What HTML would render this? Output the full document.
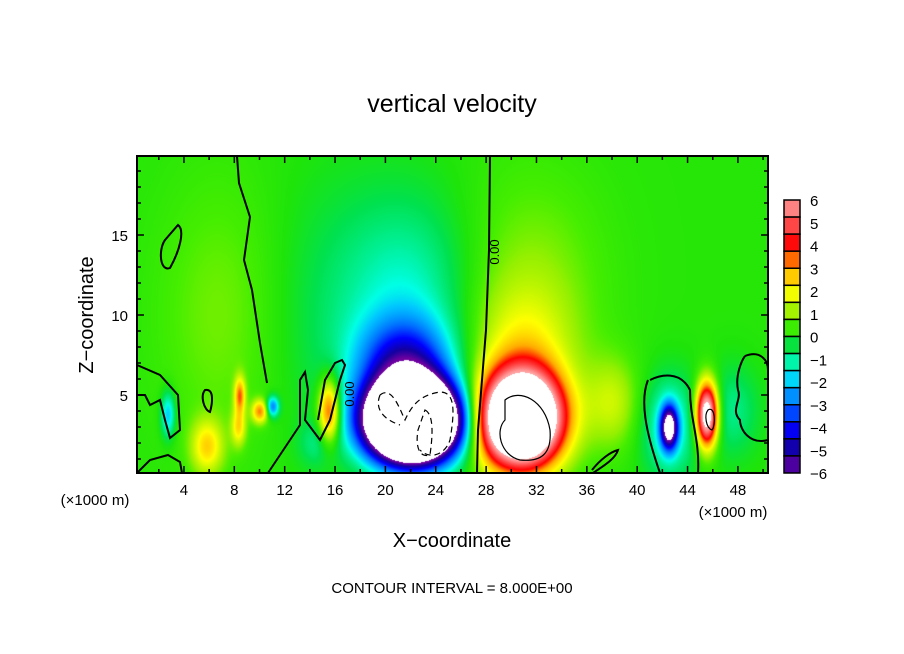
<!DOCTYPE html>
<html><head><meta charset="utf-8"><style>
html,body{margin:0;padding:0;background:#fff;}
#wrap{position:relative;width:904px;height:654px;font-family:"Liberation Sans","DejaVu Sans",sans-serif;}
canvas{position:absolute;left:137px;top:156px;}
svg{position:absolute;left:0;top:0;}
</style></head><body>
<div id="wrap">
<canvas id="cv" width="631" height="317"></canvas>
<svg id="sv" width="904" height="654">
<text x="452" y="112" text-anchor="middle" font-size="25">vertical velocity</text>
<text x="452" y="547" text-anchor="middle" font-size="20">X−coordinate</text>
<text transform="translate(93,315) rotate(-90)" text-anchor="middle" font-size="20">Z−coordinate</text>
<text x="452" y="593" text-anchor="middle" font-size="15">CONTOUR INTERVAL = 8.000E+00</text>
<text x="95" y="505" text-anchor="middle" font-size="15">(×1000 m)</text>
<text x="733" y="517" text-anchor="middle" font-size="15">(×1000 m)</text>
<g id="contours" fill="none" stroke="#000" stroke-width="2">
<polyline points="237,156 239,183 250,217 244,260 252,290 260,343 267,383"/>
<polyline points="490,156 489,250 486,330 482,380 478,430 477,473"/>
<polyline points="137,365 160,375 178,395 180,430 170,438 165,420 160,400 150,405 145,395 137,395"/>
<polyline points="268,473 290,440 300,425 300,380 305,372 308,390 305,420 320,440 330,420 340,380 345,365 342,360 335,363 325,380 318,420"/>
<polyline points="137,473 150,460 168,455 180,462 182,473"/>
<path d="M178,225 C185,230 180,250 170,268 C160,272 158,250 165,240 Z"/>
<path d="M205,390 C215,388 212,405 210,412 C204,410 200,396 205,390 Z"/>
<path d="M650,380 C660,375 680,370 690,390 C690,420 700,440 698,473 M648,380 C640,400 645,430 660,473"/>
<path d="M745,356 C760,350 768,360 768,370 M768,440 C750,445 740,430 740,420 C730,410 742,400 738,390 C735,375 742,360 745,356"/>
<path d="M592,470 C600,460 610,452 618,450 C615,460 600,468 593,473"/>
</g>
<g fill="none" stroke="#000" stroke-width="1.2">
<path d="M505,400 C520,388 545,400 550,430 C552,455 540,462 520,460 C500,455 495,430 505,420 Z"/>
<path d="M380,395 C392,385 400,410 405,420 C412,405 420,395 440,392 C455,392 455,410 450,440 C445,455 430,460 420,450" stroke-dasharray="6,4"/>
<path d="M380,395 C374,410 385,420 400,425" stroke-dasharray="6,4"/>
<path d="M425,410 C435,415 432,440 430,455 C420,458 415,448 418,430 Z" stroke-dasharray="6,4"/>
<path d="M708,410 C715,405 716,425 712,430 C706,428 704,415 708,410 Z"/>
</g>
<g font-size="13" text-anchor="middle">
<text transform="translate(499,252) rotate(-90)">0.00</text>
<text transform="translate(354,394) rotate(-90)">0.00</text>
</g>
<rect x="137" y="156" width="631" height="317" fill="none" stroke="#000" stroke-width="2"/>
<g id="ticks" stroke="#000" stroke-width="1.5"></g>
<g id="tlabels" font-size="15" text-anchor="middle"></g>
<g id="cbar"></g>
</svg>
</div>
<script>
// field model data: blobs (km)
const blobX   = [22.1,21.5,22,30.8,30.8,31.5,45.5,42.5,42.5,15.5,10,11,8.4,5.8,2.7,7,38,47.5,16,8.3,28.5,14.5];
const blobZ   = [3.4,6.8,11,3.5,7.5,12,3.8,3,3,4,4,4.3,5,1.8,3.8,10,4.5,4,10,3,3,2];
const blobAmp = [-24,-4,-1.3,13,1.5,0.8,8,-7,-1.8,4,3,-3,3,2.2,-2.2,0.7,1.3,-1,-0.6,2,0.6,-0.8];
const blobSX  = [2.3,2.5,3.5,2.16,2.8,4,0.6,0.45,1.5,0.6,0.45,0.35,0.3,0.9,0.4,3.5,1.5,1.5,4,0.4,1,1];
const blobSZ  = [1.6,2.0,4.5,2.0,3,5,1.4,0.9,2.2,1.4,0.5,0.45,0.8,1.2,1,6,2,2,6,0.8,2,1];
const baseValue = 0.1;
const xTicks = [4,8,12,16,20,24,28,32,36,40,44,48];
const yTicks = [5,10,15];
const cbarLabels = ["6","5","4","3","2","1","0","−1","−2","−3","−4","−5","−6"];
const cmapVals = [-6,-5,-4,-3,-2,-1.5,-1,-0.5,0,0.5,1,2,3,4,5,6];
const cmapR = [110,20,0,0,0,0,0,0,30,70,150,255,255,255,255,255];
const cmapG = [0,0,0,110,200,255,240,225,228,238,240,255,170,0,80,160];
const cmapB = [160,160,255,255,255,230,150,80,10,0,0,0,0,0,80,160];

const X0=133.6, XS=12.59, Y0=475, YS=16;
const px = x => X0 + x*XS, pz = z => Y0 - z*YS;

function color(v){
  if (v>6.3||v<-6.3) return [255,255,255];
  if (v<=cmapVals[0]) return [cmapR[0],cmapG[0],cmapB[0]];
  const n=cmapVals.length;
  if (v>=cmapVals[n-1]) return [cmapR[n-1],cmapG[n-1],cmapB[n-1]];
  for(let i=0;i<n-1;i++){ if(v<=cmapVals[i+1]){ const t=(v-cmapVals[i])/(cmapVals[i+1]-cmapVals[i]);
    return [cmapR[i]+t*(cmapR[i+1]-cmapR[i]),cmapG[i]+t*(cmapG[i+1]-cmapG[i]),cmapB[i]+t*(cmapB[i+1]-cmapB[i])]; } }
  return [255,255,255];
}
const cv=document.getElementById('cv'), ctx=cv.getContext('2d');
const img=ctx.createImageData(631,317);
for(let j=0;j<317;j++){ const z=(Y0-(156+j))/YS;
  for(let i=0;i<631;i++){ const x=(137+i-X0)/XS; let v=baseValue;
    for(let k=0;k<blobX.length;k++){ const dx=(x-blobX[k])/blobSX[k], dz=(z-blobZ[k])/blobSZ[k];
      v+=blobAmp[k]*Math.exp(-0.5*(dx*dx+dz*dz)); }
    const c=color(v), o=(j*631+i)*4; img.data[o]=c[0];img.data[o+1]=c[1];img.data[o+2]=c[2];img.data[o+3]=255; } }
ctx.putImageData(img,0,0);

const NS='http://www.w3.org/2000/svg';
const tg=document.getElementById('ticks'), lg=document.getElementById('tlabels');
function line(x1,y1,x2,y2){const l=document.createElementNS(NS,'line');l.setAttribute('x1',x1);l.setAttribute('y1',y1);l.setAttribute('x2',x2);l.setAttribute('y2',y2);tg.appendChild(l);}
for(let x=2;x<=50;x+=2){ const major=x%4===0, L=major?7:4, X=px(x); if(X>767) continue;
  line(X,473,X,473-L); line(X,156,X,156+L); }
for(let z=1;z<=19;z++){ const major=z%5===0, L=major?7:4, Y=pz(z);
  line(137,Y,137+L,Y); line(768,Y,768-L,Y); }
xTicks.forEach(x=>{const t=document.createElementNS(NS,'text');


t.setAttribute('x',px(x));t.setAttribute('y',495);t.textContent=x;lg.appendChild(t);});
yTicks.forEach(z=>{const t=document.createElementNS(NS,'text');


t.setAttribute('x',128);t.setAttribute('y',pz(z)+6);t.setAttribute('text-anchor','end');t.textContent=z;lg.appendChild(t);});

const cb=document.getElementById('cbar');
const nb=16, cbTop=200, cbBot=473, bh=(cbBot-cbTop)/nb;
for(let b=0;b<nb;b++){ const v=6-(b+0.5)*12/nb; const c=color(v);
  const r=document.createElementNS(NS,'rect');
  
  
  r.setAttribute('x',784);r.setAttribute('y',cbTop+b*bh);r.setAttribute('width',16);r.setAttribute('height',bh);
  r.setAttribute('fill','rgb('+c.map(Math.round).join(',')+')');r.setAttribute('stroke','#000');r.setAttribute('stroke-width','1.5');cb.appendChild(r);}
cbarLabels.forEach((s,i)=>{const t=document.createElementNS(NS,'text');
  
  
  t.setAttribute('x',810);t.setAttribute('y',cbTop+i*(cbBot-cbTop)/12+6);t.setAttribute('font-size','15');t.textContent=s;cb.appendChild(t);});
</script>
</body></html>
